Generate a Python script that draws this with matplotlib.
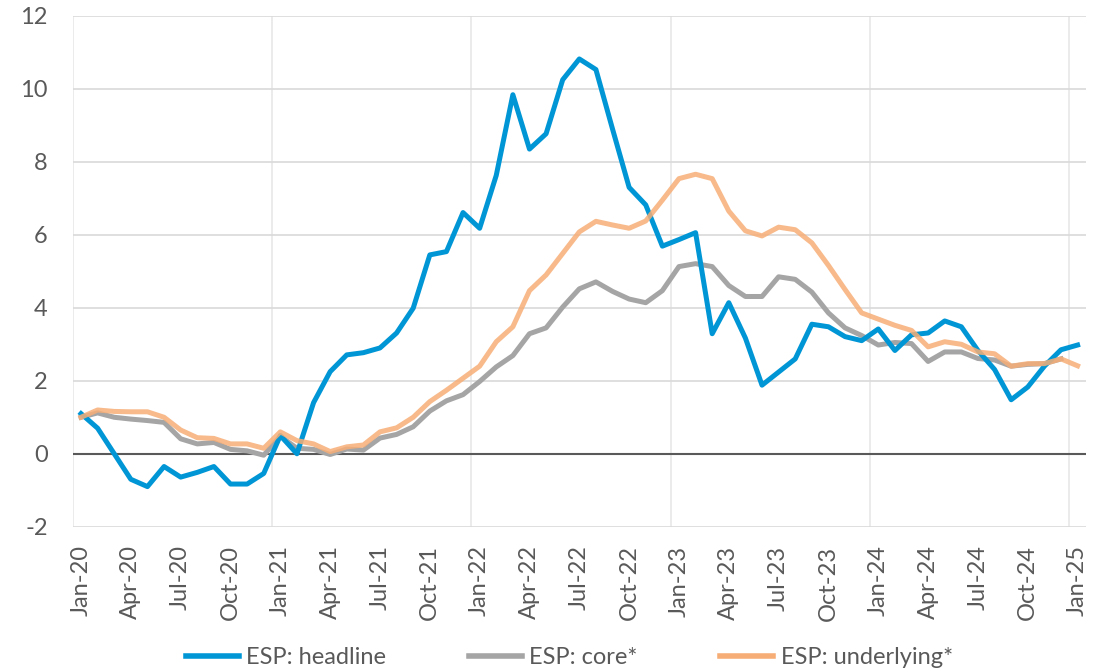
import numpy as np
import matplotlib
matplotlib.use('Agg')
import matplotlib.pyplot as plt

plt.rcParams['font.family'] = ['Lato', 'DejaVu Sans']
plt.rcParams['axes.unicode_minus'] = False

# monthly data, Jan-20 .. Jan-25 (61 months)
headline = [1.1, 0.7, 0.0, -0.7, -0.9, -0.35, -0.64, -0.51, -0.35, -0.83, -0.83, -0.54,
            0.5, 0.0, 1.4, 2.25, 2.71, 2.77, 2.9, 3.31, 3.99, 5.45, 5.54, 6.61,
            6.18, 7.63, 9.84, 8.35, 8.77, 10.25, 10.82, 10.53, 8.9, 7.3, 6.82, 5.69,
            5.87, 6.06, 3.29, 4.14, 3.17, 1.88, 2.24, 2.6, 3.55, 3.48, 3.21, 3.1,
            3.42, 2.83, 3.26, 3.31, 3.64, 3.48, 2.83, 2.31, 1.48, 1.83, 2.4, 2.85,
            2.98]
core = [1.0, 1.12, 1.0, 0.95, 0.91, 0.86, 0.41, 0.27, 0.31, 0.12, 0.08, -0.04,
        0.48, 0.15, 0.12, -0.02, 0.13, 0.1, 0.43, 0.53, 0.74, 1.17, 1.45, 1.62,
        1.98, 2.38, 2.69, 3.29, 3.45, 4.02, 4.52, 4.71, 4.45, 4.24, 4.14, 4.47,
        5.13, 5.21, 5.13, 4.61, 4.31, 4.31, 4.85, 4.78, 4.43, 3.86, 3.45, 3.24,
        2.98, 3.05, 3.02, 2.53, 2.79, 2.79, 2.61, 2.57, 2.4, 2.45, 2.47, 2.6,
        np.nan]
underlying = [1.0, 1.2, 1.16, 1.15, 1.15, 1.0, 0.65, 0.44, 0.42, 0.27, 0.27, 0.15,
              0.6, 0.36, 0.27, 0.06, 0.19, 0.24, 0.6, 0.71, 1.0, 1.43, 1.74, 2.07,
              2.4, 3.07, 3.48, 4.47, 4.9, 5.49, 6.08, 6.37, 6.27, 6.18, 6.38, 6.95,
              7.54, 7.66, 7.54, 6.65, 6.11, 5.97, 6.21, 6.14, 5.78, 5.16, 4.5, 3.86,
              3.69, 3.52, 3.38, 2.93, 3.07, 3.0, 2.79, 2.74, 2.4, 2.47, 2.47, 2.6,
              2.41]
tick_labels = ['Jan-20', 'Apr-20', 'Jul-20', 'Oct-20', 'Jan-21', 'Apr-21', 'Jul-21',
               'Oct-21', 'Jan-22', 'Apr-22', 'Jul-22', 'Oct-22', 'Jan-23', 'Apr-23',
               'Jul-23', 'Oct-23', 'Jan-24', 'Apr-24', 'Jul-24', 'Oct-24', 'Jan-25']

TXT = '#595959'
x = np.arange(len(headline))

fig = plt.figure(figsize=(11.1, 6.71), dpi=100)
ax = fig.add_axes([0.0655, 0.215, 0.9128, 0.7613])

ax.plot(x, core, color='#A5A5A5', lw=3.6, label='ESP: core*', zorder=3,
        solid_joinstyle='round')
ax.plot(x, headline, color='#0096D6', lw=3.6, label='ESP: headline', zorder=4,
        solid_joinstyle='round')
ax.plot(x, underlying, color='#F7AE76', lw=3.6, alpha=0.85, label='ESP: underlying*',
        zorder=5, solid_joinstyle='round')
ax.axhline(0, color=TXT, lw=1.5, zorder=2)

ax.set_xlim(-0.5, len(x) - 0.5)
ax.set_ylim(-2, 12)
ax.set_yticks(range(-2, 13, 2))
ax.set_xticks(np.arange(0, len(x), 3))
ax.set_xticklabels(tick_labels, rotation=90)
ax.set_xticks(np.arange(-0.5, len(x), 12), minor=True)

ax.grid(axis='y', which='major', color='#D9D9D9', lw=1.2, zorder=0)
ax.grid(axis='x', which='minor', color='#E8E8E8', lw=1.2, zorder=0)
ax.set_axisbelow(True)
for s in ax.spines.values():
    s.set_visible(False)
ax.tick_params(axis='x', which='both', length=0, pad=13.5, labelsize=17, labelcolor=TXT)
ax.tick_params(axis='y', length=0, pad=18, labelsize=17, labelcolor=TXT)

h, l = ax.get_legend_handles_labels()
order = [1, 0, 2]
leg = fig.legend([h[i] for i in order], [l[i] for i in order], loc='center',
                 bbox_to_anchor=(0.513, 0.02), ncol=3, frameon=False, fontsize=17,
                 handlelength=2.25, handletextpad=0.3, columnspacing=3.5)
for t in leg.get_texts():
    t.set_color(TXT)
for ln in leg.get_lines():
    ln.set_linewidth(4)
    ln.set_alpha(1)

fig.savefig('out.png', dpi=100)
